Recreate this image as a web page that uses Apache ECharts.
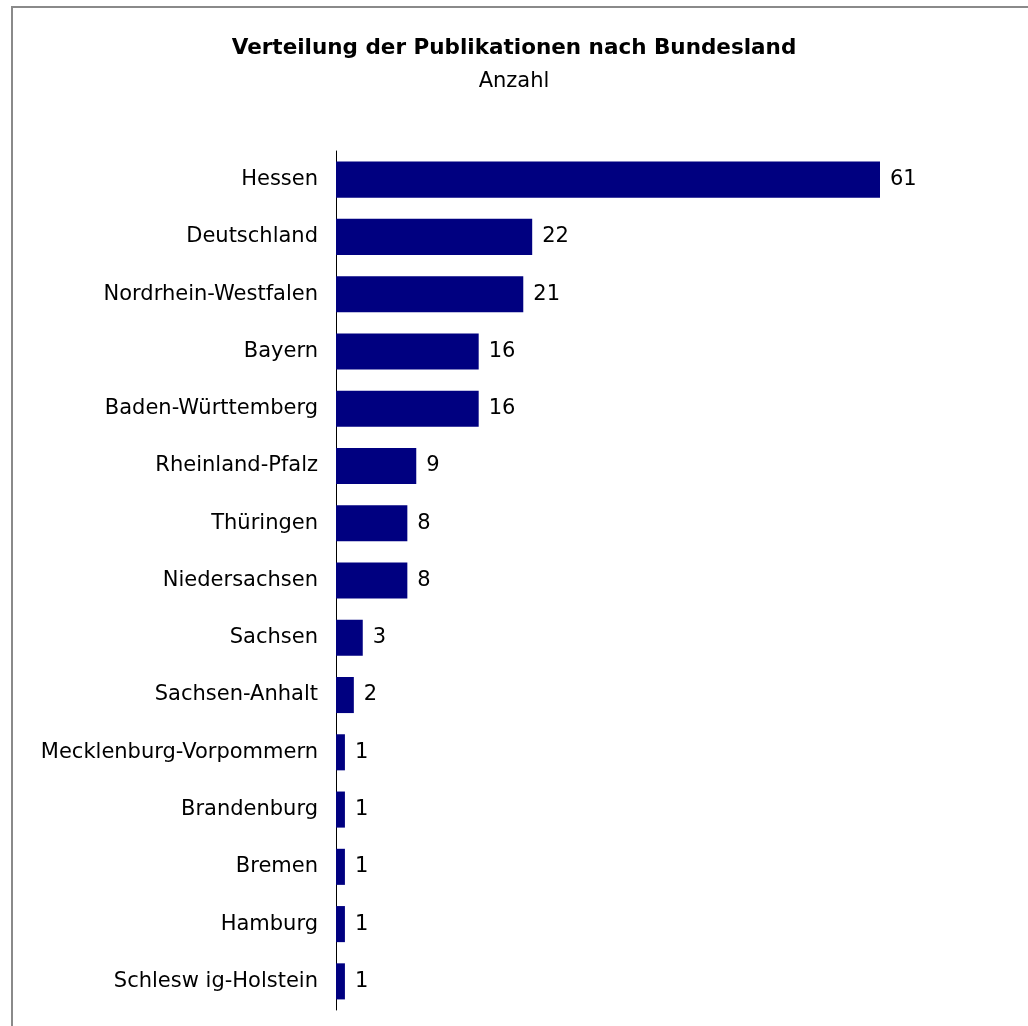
<!DOCTYPE html>
<html>
<head>
<meta charset="utf-8">
<script src="https://cdn.jsdelivr.net/npm/echarts@6/dist/echarts.min.js"></script>
<style>
html,body{margin:0;padding:0;background:#fff;}
#chart{width:1028px;height:1026px;}
</style>
</head>
<body>
<div id="chart"></div>
<script>
const titleText = 'Verteilung der Publikationen nach Bundesland';
const subtitleText = 'Anzahl';
const categories = ['Hessen','Deutschland','Nordrhein-Westfalen','Bayern','Baden-Württemberg','Rheinland-Pfalz','Thüringen','Niedersachsen','Sachsen','Sachsen-Anhalt','Mecklenburg-Vorpommern','Brandenburg','Bremen','Hamburg','Schlesw ig-Holstein'];
const values = [61,22,21,16,16,9,8,8,3,2,1,1,1,1,1];

const chart = echarts.init(document.getElementById('chart'), null, {renderer:'canvas'});
const font = 'DejaVu Sans, Liberation Sans, sans-serif';
chart.setOption({
  animation: false,
  backgroundColor: '#ffffff',
  graphic: [{
    type: 'rect',
    shape: {x: 12, y: 7, width: 1100, height: 1100},
    style: {fill: 'none', stroke: '#8a8a8a', lineWidth: 2},
    silent: true
  }],
  title: {
    text: titleText,
    subtext: subtitleText,
    left: 'center',
    top: 32,
    itemGap: 12,
    textStyle: {fontFamily: font, fontSize: 21.5, fontWeight: 'bold', color: '#000'},
    subtextStyle: {fontFamily: font, fontSize: 21, color: '#000'}
  },
  grid: {left: 336, right: 148, top: 151, bottom: 16, containLabel: false},
  xAxis: {
    type: 'value', min: 0, max: 61, show: false
  },
  yAxis: {
    type: 'category',
    data: categories,
    inverse: true,
    axisLine: {show: true, lineStyle: {color: '#000', width: 1}},
    axisTick: {show: false},
    axisLabel: {fontFamily: font, fontSize: 21, color: '#000', margin: 18, padding: [7, 0, 0, 0]},
    splitLine: {show: false}
  },
  series: [{
    type: 'bar',
    data: values,
    barCategoryGap: '37%',
    itemStyle: {color: '#000080'},
    label: {show: true, position: 'right', distance: 10, fontFamily: font, fontSize: 21, color: '#000', padding: [7, 0, 0, 0]}
  }]
});
</script>
</body>
</html>
